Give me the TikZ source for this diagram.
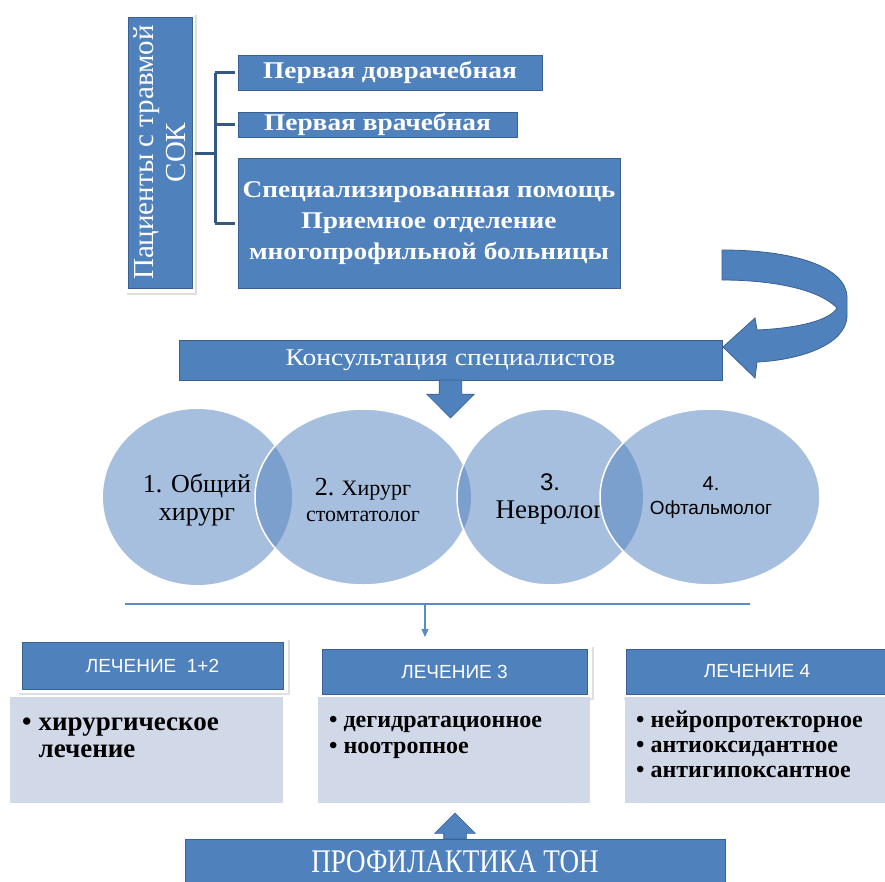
\documentclass[tikz,border=0pt]{standalone}
\usepackage{fontspec}
\setmainfont{Liberation Serif}
\setsansfont{Liberation Sans}
\newfontfamily\wideserif[FakeStretch=1.14]{Liberation Serif}
\newfontfamily\midserif[FakeStretch=1.15]{Liberation Serif}
\newfontfamily\narrowserif[FakeStretch=0.82]{Liberation Serif}
\usetikzlibrary{shapes.geometric,shapes.arrows,shadows,arrows.meta,positioning}

\definecolor{boxblue}{RGB}{79,129,189}
\definecolor{boxedge}{RGB}{58,96,145}
\definecolor{forkblue}{RGB}{52,88,127}
\definecolor{ovallight}{RGB}{167,191,222}
\definecolor{ovaldark}{RGB}{123,160,205}
\definecolor{panelgray}{RGB}{209,217,232}
\definecolor{thinblue}{RGB}{91,139,196}

\tikzset{
  bluebox/.style={fill=boxblue, draw=boxedge, line width=0.8pt, text=white,
    inner sep=0pt, outer sep=0pt, align=center},
  whiteframe/.style={fill=white, inner sep=0pt, outer sep=0pt, anchor=north west,
    drop shadow={shadow xshift=1.5pt, shadow yshift=-1.5pt, opacity=0.25}},
  oval/.style={ellipse, fill=ovallight, inner sep=0pt, minimum height=176pt},
  ovaltext/.style={align=center, inner sep=0pt},
  panel/.style={fill=panelgray, inner sep=0pt, outer sep=0pt, anchor=north west},
  listtext/.style={anchor=base west, inner sep=0pt, font=\bfseries},
  fork/.style={draw=forkblue, line width=3pt},
  thinline/.style={draw=thinblue, line width=1.2pt},
  blockarrow/.style={single arrow, fill=boxblue, draw=boxedge, line width=0.6pt,
    inner sep=0pt, outer sep=0pt, anchor=tail, text height=11pt, text depth=11pt,
    single arrow head indent=0pt},
}

\begin{document}
\begin{tikzpicture}[x=1pt,y=-1pt]
\useasboundingbox (0,0) rectangle (885,881);

% patients column
\node[whiteframe, minimum width=70pt, minimum height=280pt] (patframe) at (125,13) {};
\node[bluebox, rotate=90, minimum width=271pt, minimum height=64pt,
  font=\fontsize{29}{32}\selectfont] (patients) at (160,152.5) {Пациенты с травмой\\СОК};

% levels of care
\node[bluebox, anchor=north west, minimum width=304pt, minimum height=35pt,
  font=\wideserif\bfseries\fontsize{24}{26}\selectfont] (first) at (238,55) {Первая доврачебная};
\node[bluebox, anchor=north west, minimum width=279pt, minimum height=25pt,
  font=\wideserif\bfseries\fontsize{24}{26}\selectfont] (doctor) at (238,112) {Первая врачебная};
\node[bluebox, anchor=north west, minimum width=382pt, minimum height=130pt,
  font=\wideserif\bfseries\fontsize{24}{31}\selectfont] (special) at (238,158)
  {Специализированная помощь\\Приемное отделение\\многопрофильной больницы};

% fork
\coordinate (fork) at (215,153);
\draw[fork] (patframe.east) -- (fork);
\draw[fork] (fork |- first.west) -- (fork |- special.west);
\draw[fork] (fork |- first.west) -- ([xshift=-3pt]first.west);
\draw[fork] (fork |- doctor.west) -- ([xshift=-3pt]doctor.west);
\draw[fork] (fork |- special.west) -- ([xshift=-3pt]special.west);

% consultation
\node[bluebox, minimum width=543pt, minimum height=40pt,
  font=\midserif\fontsize{24}{26}\selectfont] (consult) at (450.5,360) {Консультация специалистов};

% turn arrow
\begin{scope}[shift={(consult.east)}]
\fill[boxblue, draw=boxedge, line width=0.8pt] (0,-110)
  .. controls (70,-110) and (124,-94) .. (125,-63) -- (125,-43)
  .. controls (123,-15) and (78,0) .. (35,2) -- (33,18) -- (1,-13) -- (33,-42) -- (35,-30)
  .. controls (78,-32) and (108,-40) .. (115,-52)
  .. controls (98,-70) and (53,-80) .. (0,-80) -- cycle;
\end{scope}

\node[blockarrow, rotate=-90, minimum height=38pt, single arrow head extend=12.5pt] (down) at (consult.south) {};

% specialists
\node[oval, minimum width=189pt] (c1) at (197.5,497) {};
\node[ovaltext, font=\fontsize{26}{28}\selectfont] (t1) at (197,500) {1. Общий\\хирург};

\node[oval, minimum width=216pt] (c2) at (363,497) {};
\begin{scope}
  \clip (c1.center) ellipse [x radius=94.5, y radius=88];
  \fill[ovaldark] (c2.center) ellipse [x radius=108, y radius=88];
\end{scope}
\draw[white, line width=1.5pt] (c2.center) ellipse [x radius=108, y radius=88];
\node[ovaltext, font=\fontsize{22}{26}\selectfont] (t2) at (363,500) {{\fontsize{26}{26}\selectfont 2.} Хирург\\стомтатолог};

\node[oval, minimum width=186pt] (c3) at (550,497) {};
\begin{scope}
  \clip (c2.center) ellipse [x radius=108, y radius=88];
  \fill[ovaldark] (c3.center) ellipse [x radius=93, y radius=88];
\end{scope}
\draw[white, line width=1.5pt] (c3.center) ellipse [x radius=93, y radius=88];
\node[ovaltext, font=\fontsize{27}{28}\selectfont] (t3) at (550,499) {{\sffamily\fontsize{24}{28}\selectfont 3.}\\Невролог};

\node[oval, minimum width=220pt] (c4) at (710,497) {};
\begin{scope}
  \clip (c3.center) ellipse [x radius=93, y radius=88];
  \fill[ovaldark] (c4.center) ellipse [x radius=110, y radius=88];
\end{scope}
\draw[white, line width=1.5pt] (c4.center) ellipse [x radius=110, y radius=88];
\node[ovaltext, font=\sffamily\fontsize{19}{24}\selectfont] (t4) at (711,498) {{\fontsize{20}{24}\selectfont 4.}\\Офтальмолог};

% treatment headers
\node[whiteframe, minimum width=271pt, minimum height=55pt] (treat12frame) at (17,638) {};
\node[bluebox, minimum width=261pt, minimum height=47pt,
  font=\sffamily\fontsize{19}{22}\selectfont] (treat12) at (treat12frame.center) {ЛЕЧЕНИЕ\ \ 1+2};
\node[whiteframe, minimum width=275pt, minimum height=53pt] (treat3frame) at (317,645) {};
\node[bluebox, minimum width=265pt, minimum height=45pt,
  font=\sffamily\fontsize{19}{22}\selectfont] (treat3) at (treat3frame.center) {ЛЕЧЕНИЕ 3};
\node[whiteframe, minimum width=270pt, minimum height=53pt] (treat4frame) at (622,645) {};
\node[bluebox, minimum width=262pt, minimum height=45pt,
  font=\sffamily\fontsize{19}{22}\selectfont] (treat4) at (treat4frame.center) {ЛЕЧЕНИЕ 4};

% split line
\coordinate (rowleft) at (125,604);
\coordinate (rowright) at (750,604);
\coordinate (split) at (425,604);
\draw[thinline] (rowleft) -- (rowright);
\draw[thinline, shorten >=8pt, -{Triangle[width=7pt,length=8pt]}] (split) -- (split |- treat3frame.north);

% treatment lists
\node[panel, minimum width=273pt, minimum height=106pt] (body12) at (10,697) {};
\node[listtext] (list12) at (22,730) {\fontsize{27}{27}\selectfont
  \begin{tabular}[t]{@{}l@{\hspace{7pt}}l@{}}\textbullet & хирургическое\\ & лечение\end{tabular}};
\node[panel, minimum width=272pt, minimum height=106pt] (body3) at (318,697) {};
\node[listtext] (list3) at (329,727) {\fontsize{24}{26}\selectfont
  \begin{tabular}[t]{@{}l@{\hspace{6pt}}l@{}}\textbullet & дегидратационное\\ \textbullet & ноотропное\end{tabular}};
\node[panel, minimum width=265pt, minimum height=106pt] (body4) at (625,697) {};
\node[listtext] (list4) at (636,727) {\fontsize{24}{25}\selectfont
  \begin{tabular}[t]{@{}l@{\hspace{6pt}}l@{}}\textbullet & нейропротекторное\\ \textbullet & антиоксидантное\\ \textbullet & антигипоксантное\end{tabular}};

% prevention
\node[bluebox, minimum width=540pt, minimum height=46pt,
  font=\narrowserif\fontsize{33}{36}\selectfont] (prevent) at (455,862) {ПРОФИЛАКТИКА ТОН};
\node[blockarrow, rotate=90, minimum height=26pt, single arrow head extend=9pt] (up) at (prevent.north) {};

\end{tikzpicture}
\end{document}
